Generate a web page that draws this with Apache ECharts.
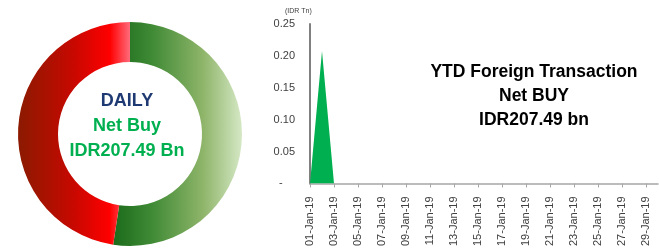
<!DOCTYPE html>
<html><head><meta charset="utf-8">
<script src="https://cdn.jsdelivr.net/npm/echarts@6/dist/echarts.min.js"></script>
<style>html,body{margin:0;padding:0;background:#fff}#c{width:659px;height:249px}</style>
</head><body><div id="c"></div>
<script>
var categories = ['01-Jan-19','02-Jan-19','03-Jan-19','04-Jan-19','05-Jan-19','06-Jan-19','07-Jan-19','08-Jan-19','09-Jan-19','10-Jan-19','11-Jan-19','12-Jan-19','13-Jan-19','14-Jan-19','15-Jan-19','16-Jan-19','17-Jan-19','18-Jan-19','19-Jan-19','20-Jan-19','21-Jan-19','22-Jan-19','23-Jan-19','24-Jan-19','25-Jan-19','26-Jan-19','27-Jan-19','28-Jan-19','29-Jan-19','30-Jan-19'];
var netBuyTn = [0,0.20749,0,0,0,0,0,0,0,0,0,0,0,0,0,0,0,0,0,0,0,0,0,0,0,0,0,0,0,0];
var donutNames = ['Buy','Sell'];
var donutValues = [52.4, 47.6];
var yTicks = [0, 0.05, 0.10, 0.15, 0.20, 0.25];

var F = '"Liberation Sans", Arial, sans-serif';
var chart = echarts.init(document.getElementById('c'));
var LG = echarts.graphic.LinearGradient;
chart.setOption({
  animation: false,
  grid: {left: 310, right: 1, top: 24, bottom: 65},
  xAxis: {
    type: 'category', data: categories, boundaryGap: false,
    axisLine: {lineStyle: {color: '#a6a6a6', width: 1.5}},
    axisTick: {interval: 1, length: 4, lineStyle: {color: '#a6a6a6'}},
    axisLabel: {interval: 1, rotate: 90, fontSize: 11, color: '#404040', fontFamily: F, margin: 13}
  },
  yAxis: {
    type: 'value', min: 0, max: 0.25, interval: 0.05,
    splitLine: {show: false},
    axisLine: {show: true, lineStyle: {color: '#808080', width: 2}},
    axisTick: {show: false},
    axisLabel: {fontSize: 11, color: '#404040', fontFamily: F, margin: 15,
      formatter: function(v){ return v === 0 ? '-    ' : v.toFixed(2); }}
  },
  series: [
    {type: 'line', data: netBuyTn, symbol: 'none', lineStyle: {width: 0}, areaStyle: {color: '#00b050', opacity: 1}, silent: true},
    {type: 'pie', center: [130, 134], radius: [72, 112], startAngle: 90, clockwise: true, silent: true,
      label: {show: false}, labelLine: {show: false},
      data: [
        {name: donutNames[0], value: donutValues[0], itemStyle: {color: new LG(0,0,1,0,[
          {offset:0,color:'#1b6b1b'},{offset:0.3,color:'#3f8a35'},{offset:0.7,color:'#8fb56a'},{offset:1,color:'#d5e8c5'}])}},
        {name: donutNames[1], value: donutValues[1], itemStyle: {color: new LG(0,0,1,0,[
          {offset:0,color:'#8b1a00'},{offset:0.5,color:'#c80800'},{offset:0.82,color:'#ff0000'},{offset:1,color:'#ff6b7b'}])}}
      ]}
  ],
  graphic: [
    {type: 'text', left: 285, top: 8, style: {text: '(IDR Tn)', fontSize: 7, fill: '#404040', font: '7px ' + F}},
    {type: 'text', x: 127, y: 101, style: {text: 'DAILY', fill: '#1f3a73', font: 'bold 18px ' + F, textAlign: 'center', textVerticalAlign: 'middle'}},
    {type: 'text', x: 127, y: 126, style: {text: 'Net Buy', fill: '#00b050', font: 'bold 18px ' + F, textAlign: 'center', textVerticalAlign: 'middle'}},
    {type: 'text', x: 127, y: 151, style: {text: 'IDR207.49 Bn', fill: '#00b050', font: 'bold 18px ' + F, textAlign: 'center', textVerticalAlign: 'middle'}},
    {type: 'text', x: 534, y: 72, style: {text: 'YTD Foreign Transaction', fill: '#000', font: 'bold 17.5px ' + F, textAlign: 'center', textVerticalAlign: 'middle'}},
    {type: 'text', x: 534, y: 96, style: {text: 'Net BUY', fill: '#000', font: 'bold 17.5px ' + F, textAlign: 'center', textVerticalAlign: 'middle'}},
    {type: 'text', x: 534, y: 120, style: {text: 'IDR207.49 bn', fill: '#000', font: 'bold 17.5px ' + F, textAlign: 'center', textVerticalAlign: 'middle'}}
  ]
});
</script></body></html>
